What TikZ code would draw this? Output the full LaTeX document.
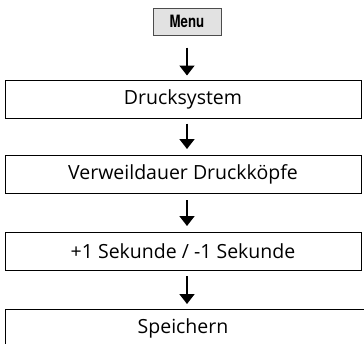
\documentclass[tikz,border=0pt]{standalone}
\usepackage{fontspec}
\usepackage{graphicx}
\setmainfont{Open Sans}
\newfontfamily\menufont{TeX Gyre Heros}
\usetikzlibrary{arrows.meta}
\definecolor{menugray}{HTML}{E2E2E2}
\tikzset{
  stepfont/.style={font=\fontsize{19.5}{22}\selectfont},
  stepbox/.style={draw=black, line width=1pt, minimum height=38pt, inner sep=0pt, stepfont},
  menubox/.style={draw=black!70, fill=menugray, line width=1pt, inner sep=0pt, font=\menufont\bfseries\fontsize{17}{19}\selectfont},
  flow/.style={line width=1.8pt, -{Triangle[length=10pt,width=15pt]}}
}
\begin{document}
\begin{tikzpicture}[x=1pt,y=-1pt]
\useasboundingbox (0,0) rectangle (364,343);
\node[menubox, minimum width=68pt, minimum height=27pt] (menu) at (187,21.5) {\scalebox{0.78}[1]{Menu}};
\node[stepbox, minimum width=356pt] (b1) at (183,99) {Drucksystem};
\node[stepbox, minimum width=356pt] (b2) at (183,174.5) {Verweildauer Druckköpfe};
\node[stepbox, minimum width=356pt] (b3) at (183,251.5) {+1 Sekunde / -1 Sekunde};
\node[stepbox, minimum width=380pt, anchor=north west] (b4) at (5,309) {};
\node[stepfont] (t4) at (183,328) {Speichern};
\draw[flow, shorten <=12pt, shorten >=4pt] (menu.south) -- (menu.south |- b1.north);
\draw[flow, shorten <=5pt, shorten >=6pt] (menu.south |- b1.south) -- (menu.south |- b2.north);
\draw[flow, shorten <=6pt, shorten >=6pt] (menu.south |- b2.south) -- (menu.south |- b3.north);
\draw[flow, shorten <=5pt, shorten >=5pt] (menu.south |- b3.south) -- (menu.south |- b4.north);
\end{tikzpicture}
\end{document}
